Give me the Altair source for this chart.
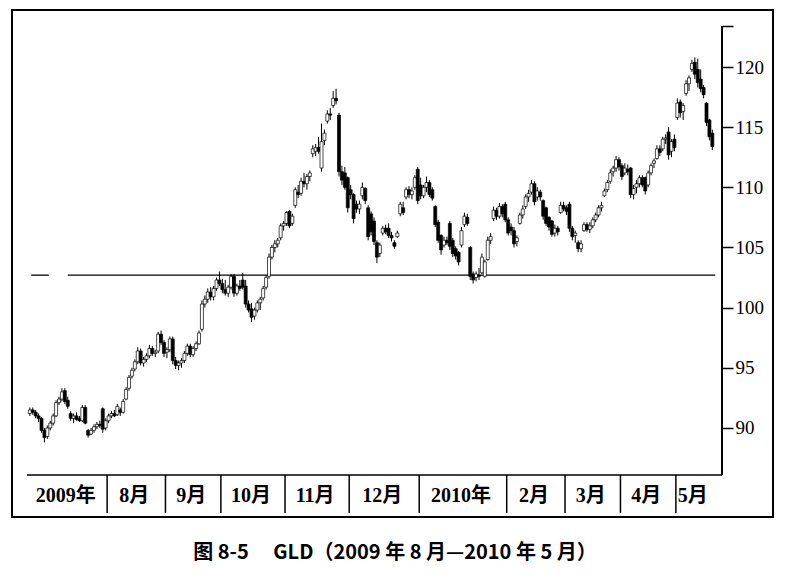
import altair as alt
import pandas as pd

# ---- data: (open, high, low, close) per trading day, grouped by month ----
jul09 = [(91.2,91.7,91.0,91.5),(91.5,91.7,91.1,91.3),(91.3,91.5,90.8,91.0),(91.0,91.2,90.5,90.8),
         (90.8,90.9,89.6,89.8),(89.8,90.0,88.8,89.2),(89.3,90.2,89.1,90.0),(90.0,90.6,89.8,90.4),
         (90.4,91.2,90.2,91.0),(91.0,92.3,90.9,92.1),(92.1,92.6,91.9,92.4),(92.4,93.3,92.2,93.0),
         (93.1,93.3,92.0,92.2),(92.3,92.6,91.6,91.8),(91.2,91.4,90.6,90.8),(90.8,91.2,90.4,91.0),
         (91.0,91.3,90.6,90.7),(90.8,91.0,90.5,90.6),(90.6,91.9,90.5,91.7),(91.7,91.9,90.3,90.4),
         (89.8,89.9,89.2,89.4),(89.5,90.0,89.4,89.8),(89.8,90.3,89.6,90.1),(90.1,90.5,89.9,90.3),
         (90.3,90.6,90.0,90.2),(91.6,91.7,89.6,89.9),(90.0,90.8,89.8,90.6)]
aug09 = [(90.6,91.2,90.4,91.0),(91.0,91.4,90.8,91.2),(91.2,91.5,90.9,91.0),(91.1,92.0,91.0,91.8),
         (91.5,91.7,91.0,91.3),(91.3,92.4,91.2,92.2),(92.4,93.4,92.3,93.2),(93.3,94.4,93.1,94.2),
         (94.3,95.0,94.1,94.8),(94.9,95.7,94.7,95.5),(95.5,96.7,95.3,96.4),(96.4,96.6,95.2,95.4),
         (95.4,95.9,95.1,95.7),(95.7,96.2,95.5,96.0),(96.0,96.9,95.8,96.6),(96.6,96.8,96.0,96.2),
         (96.2,96.5,95.9,96.3),(96.4,98.0,96.2,97.8),(97.8,98.1,96.9,97.1),(97.1,97.3,95.9,96.2)]
sep09 = [(96.3,96.7,95.8,96.5),(96.5,97.6,96.3,97.4),(97.4,97.6,95.3,95.6),(95.6,95.9,94.9,95.2),
         (95.2,95.6,94.8,95.4),(95.4,95.8,95.0,95.6),(95.6,96.4,95.4,96.2),(96.2,97.0,96.0,96.8),
         (96.8,97.0,95.9,96.1),(96.1,96.8,95.9,96.6),(96.6,97.2,96.4,97.0),(97.0,98.1,96.9,97.9),
         (98.2,100.6,98.0,100.3),(100.3,101.0,100.0,100.7),(100.7,101.6,100.4,101.3),(101.3,101.7,100.6,100.9),
         (100.9,101.8,100.6,101.6),(101.6,102.5,101.4,102.3),(102.3,103.0,101.8,102.0)]
oct09 = [(102.0,102.4,101.2,101.5),(101.5,102.3,101.0,101.2),(101.2,101.9,100.9,101.7),(101.7,102.8,101.5,102.6),
         (102.6,102.8,100.9,101.2),(101.2,102.0,101.0,101.8),(101.8,102.3,101.4,101.6),(102.3,102.9,101.5,101.7),
         (101.8,102.3,100.0,100.3),(100.3,100.6,99.6,99.8),(99.9,100.4,98.8,99.2),(99.3,100.0,99.0,99.8),
         (99.8,100.6,99.6,100.4),(100.4,100.9,99.8,100.7),(100.8,101.8,100.6,101.6),(101.7,102.7,101.5,102.5),
         (102.6,104.5,102.4,104.2),(104.2,105.2,104.0,105.0),(105.0,105.6,104.6,105.3),(105.3,105.8,105.0,105.6),
         (105.8,107.0,105.6,106.8),(106.8,107.2,106.4,107.0)]
nov09 = [(107.0,108.0,106.8,107.9),(108.0,108.1,106.6,106.8),(107.0,107.8,106.8,107.6),(108.5,110.0,108.3,109.8),
         (109.6,110.2,109.1,109.4),(109.5,110.8,109.3,110.5),(110.5,111.2,110.0,110.3),(110.3,111.1,109.8,110.9),
         (110.9,111.4,110.5,111.2),(112.8,113.5,112.5,113.2),(113.0,113.6,112.6,113.3),(113.3,114.2,112.8,113.0),
         (111.6,115.3,111.3,113.8),(113.9,114.8,113.5,114.5),(115.5,116.4,115.3,116.1),(116.1,116.6,115.6,116.0),
         (116.8,118.0,116.6,117.4),(117.4,118.2,116.9,117.2),(116.0,116.2,110.9,111.3),(111.3,111.8,110.2,110.6),
         (111.2,111.7,109.8,110.0),(110.8,110.9,107.9,108.3)]
dec09 = [(109.8,110.2,109.0,109.4),(109.4,109.5,107.0,107.4),(108.6,108.9,107.9,108.2),(108.2,108.9,107.8,108.6),
         (109.3,110.4,109.0,110.0),(109.9,110.0,108.6,108.9),(108.3,108.5,105.6,105.9),(107.8,108.0,106.0,106.3),
         (107.2,107.5,105.2,105.5),(105.4,105.6,103.7,104.2),(104.5,105.4,104.2,105.2),(106.2,106.8,106.0,106.6),
         (106.6,106.9,106.1,106.3),(106.6,107.0,105.8,106.0),(106.0,106.3,105.5,105.8),(105.4,105.6,104.9,105.1),
         (105.9,106.4,105.8,106.2),(107.8,108.8,107.6,108.6),(108.3,108.8,107.7,107.9),(109.2,110.0,109.0,109.8),
         (109.8,110.1,109.1,109.4),(109.4,110.0,109.0,109.7),(110.0,111.0,109.8,110.8),(111.5,111.7,108.6,108.9)]
jan10 = [(110.2,110.8,109.0,109.3),(109.3,110.2,109.1,110.0),(110.0,110.9,109.6,110.4),(110.4,110.6,109.2,109.4),
         (109.8,110.0,108.9,109.1),(108.4,108.5,106.7,106.9),(107.1,107.3,105.4,105.6),(106.0,106.1,104.4,104.8),
         (105.2,105.9,105.0,105.6),(105.6,105.9,105.2,105.4),(107.0,107.2,104.8,105.1),(105.6,105.8,104.2,104.5),
         (104.9,105.1,104.0,104.3),(104.6,104.7,103.5,103.8),(105.2,106.7,105.0,106.4),(106.9,107.9,106.7,107.6),
         (107.5,107.8,106.8,107.0),(105.0,105.1,102.3,102.6),(102.8,103.0,102.0,102.3),(102.5,103.0,102.2,102.8),
         (102.7,103.3,102.3,102.6),(102.9,104.5,102.8,104.2),(102.6,104.0,102.5,103.8),(104.0,105.9,103.9,105.6),
         (105.6,106.2,105.3,105.9),(107.4,108.4,107.2,108.1),(108.1,108.3,107.3,107.6),(107.6,108.7,107.4,108.4),
         (108.4,108.6,107.5,107.8),(108.6,108.8,107.1,107.3)]
feb10 = [(107.3,107.5,106.0,106.2),(106.7,107.0,106.0,106.4),(106.4,106.7,105.0,105.3),(105.5,106.0,105.1,105.8),
         (107.0,107.9,106.9,107.7),(107.7,108.5,107.4,108.2),(108.4,109.4,108.2,109.2),(109.2,109.8,108.8,109.5),
         (109.6,110.6,109.4,110.3),(110.3,110.5,108.5,108.8),(109.2,110.0,108.9,109.7),(109.6,109.8,108.9,109.2),
         (108.9,109.0,107.3,107.6),(108.3,108.4,106.8,107.0),(107.5,107.6,106.4,106.7),(107.2,107.3,105.9,106.1),
         (106.2,106.9,105.9,106.6),(106.6,106.8,106.0,106.3),(107.9,108.8,107.8,108.5),(108.5,108.8,108.0,108.2)]
mar10 = [(108.3,108.5,107.7,108.0),(108.6,108.8,106.3,106.6),(106.6,106.8,105.6,105.9),(106.0,106.4,105.4,106.2),
         (105.4,105.6,104.6,104.9),(104.9,105.6,104.6,105.3),(106.4,107.1,106.3,106.9),(106.9,107.1,106.3,106.5),
         (106.5,107.1,106.2,106.8),(106.8,107.5,106.6,107.3),(107.3,107.9,107.1,107.7),(107.7,108.5,107.5,108.3),
         (108.3,108.8,108.0,108.5),(109.3,109.9,109.2,109.7),(109.8,110.6,109.6,110.4),(110.5,111.5,110.3,111.2),
         (111.3,111.8,110.9,111.6),(111.6,112.6,111.3,112.3),(112.3,112.5,111.4,111.7)]
apr10 = [(111.8,112.0,110.6,110.9),(111.2,112.0,111.0,111.6),(111.5,111.9,111.0,111.3),(111.6,111.7,109.1,109.4),
         (109.4,110.2,109.0,109.9),(110.0,110.6,109.5,110.3),(110.3,111.0,110.0,110.8),(110.8,111.0,110.0,110.2),
         (110.8,110.9,109.4,109.7),(110.2,111.4,110.0,111.2),(111.2,112.0,111.0,111.8),(112.0,112.4,111.6,112.2),
         (112.4,113.5,112.3,113.2),(113.2,113.5,112.6,112.9),(113.2,114.2,113.0,114.0),(114.0,114.4,113.6,114.1),
         (114.6,115.0,112.3,112.7),(113.0,114.0,112.5,113.8),(114.0,114.4,113.0,113.3)]
may10 = [(115.8,117.4,115.6,117.0),(117.1,117.3,115.8,116.2),(116.3,117.0,115.6,116.8),(117.8,118.9,117.6,118.6),
         (118.6,119.3,118.0,119.1),(119.8,120.6,119.6,120.3),(120.4,120.8,119.0,119.4),(119.8,120.7,118.3,118.7),
         (119.0,119.8,117.9,118.2),(118.3,118.5,117.4,117.7),(117.0,117.1,115.1,115.4),(115.6,115.7,113.9,114.2),
         (114.5,114.8,113.1,113.4)]

month_labels = ["2009年", "8月", "9月", "10月", "11月", "12月", "2010年", "2月", "3月", "4月", "5月"]
month_data = [jul09, aug09, sep09, oct09, nov09, dec09, jan10, feb10, mar10, apr10, may10]
y_ticks = [90, 95, 100, 105, 110, 115, 120]
axis_top = 123.4
level_price = 102.7
level_segments = [(0.5, 6.5), (13, 235)]   # trading-day index ranges of the level line
caption = "图 8-5　 GLD（2009 年 8 月—2010 年 5 月）"

# ---- build tables ----
rows, months = [], []
idx = 0
for label, data in zip(month_labels, month_data):
    start = idx
    for o, h, l, c in data:
        rows.append({"i": idx, "open": o, "high": h, "low": l, "close": c,
                     "dir": "up" if c >= o else "down"})
        idx += 1
    months.append({"label": label, "start": start, "end": idx})
N = idx
df = pd.DataFrame(rows)

x_lo, x_hi = -4.4, N + 0.6
mdf = pd.DataFrame(months)
mdf["b0"] = (mdf["start"] - 0.5).clip(lower=x_lo)
mdf["b1"] = (mdf["end"] - 0.5).clip(upper=x_hi)
mdf["center"] = (mdf["b0"] + mdf["b1"]) / 2
divs = mdf.iloc[1:][["b0"]].copy()
lvl = pd.DataFrame([{"x0": a, "x1": b, "y": level_price} for a, b in level_segments])
one = pd.DataFrame({"k": [0]})

W, H = 710, 465
xs = alt.Scale(domain=[x_lo, x_hi], nice=False, zero=False)
ys = alt.Scale(domain=[86.09, 124.74], nice=False, zero=False)
SERIF = "'Liberation Serif', 'Noto Sans CJK SC', serif"

yaxis = alt.Axis(orient="right", values=y_ticks + [axis_top], domain=False, grid=False, title=None,
                 labelExpr="datum.value > 121 ? '' : datum.label",
                 tickSize=11, tickWidth=1.5, tickColor="black",
                 labelFont=SERIF, labelFontSize=19, labelColor="black",
                 labelPadding=2)

frame = alt.Chart(one).mark_rect(fill="transparent", stroke="black", strokeWidth=2).encode(
    x=alt.value(0), x2=alt.value(761), y=alt.value(0), y2=alt.value(507))

bottom_line = alt.Chart(one).mark_rule(color="black", strokeWidth=1.5).encode(
    x=alt.value(15), x2=alt.value(W), y=alt.value(H))

axis_line = alt.Chart(one).mark_rule(color="black", strokeWidth=2).encode(
    x=alt.value(W), y=alt.datum(axis_top, scale=ys, axis=yaxis), y2=alt.value(H))

level = alt.Chart(lvl).mark_rule(color="black", strokeWidth=1.3).encode(
    x=alt.X("x0:Q", scale=xs, axis=None), x2="x1:Q",
    y=alt.Y("y:Q", scale=ys, axis=yaxis))

wicks = alt.Chart(df).mark_rule(color="black", strokeWidth=1).encode(
    x=alt.X("i:Q", scale=xs, axis=None),
    y=alt.Y("low:Q", scale=ys, axis=yaxis),
    y2="high:Q")

bodies = alt.Chart(df).mark_bar(size=3, stroke="black", strokeWidth=0.7).encode(
    x=alt.X("i:Q", scale=xs, axis=None),
    y=alt.Y("open:Q", scale=ys, axis=yaxis), y2="close:Q",
    fill=alt.Fill("dir:N", scale=alt.Scale(domain=["up", "down"], range=["white", "black"]), legend=None))

dividers = alt.Chart(divs).mark_rule(color="black", strokeWidth=1.5).encode(
    x=alt.X("b0:Q", scale=xs, axis=None), y=alt.value(H), y2=alt.value(503))

mlabels = alt.Chart(mdf).mark_text(font=SERIF, fontSize=20, fontWeight="bold", color="black",
                                   baseline="middle", dx=-2).encode(
    x=alt.X("center:Q", scale=xs, axis=None), y=alt.value(486), text="label:N")

cap = alt.Chart(pd.DataFrame({"t": [caption]})).mark_text(
    font="'Noto Sans CJK SC', sans-serif", fontSize=20, fontWeight="bold", color="black",
    baseline="middle").encode(x=alt.value(383), y=alt.value(543), text="t:N")

chart = alt.layer(frame, bottom_line, level, wicks, bodies, axis_line, dividers, mlabels, cap).properties(
    width=W, height=H, autosize="none",
    padding={"left": 4, "top": 2, "right": 60, "bottom": 95},
    background="white",
).configure_view(stroke=None)

chart.save("out.html", embed_options={"renderer": "svg", "actions": False})
